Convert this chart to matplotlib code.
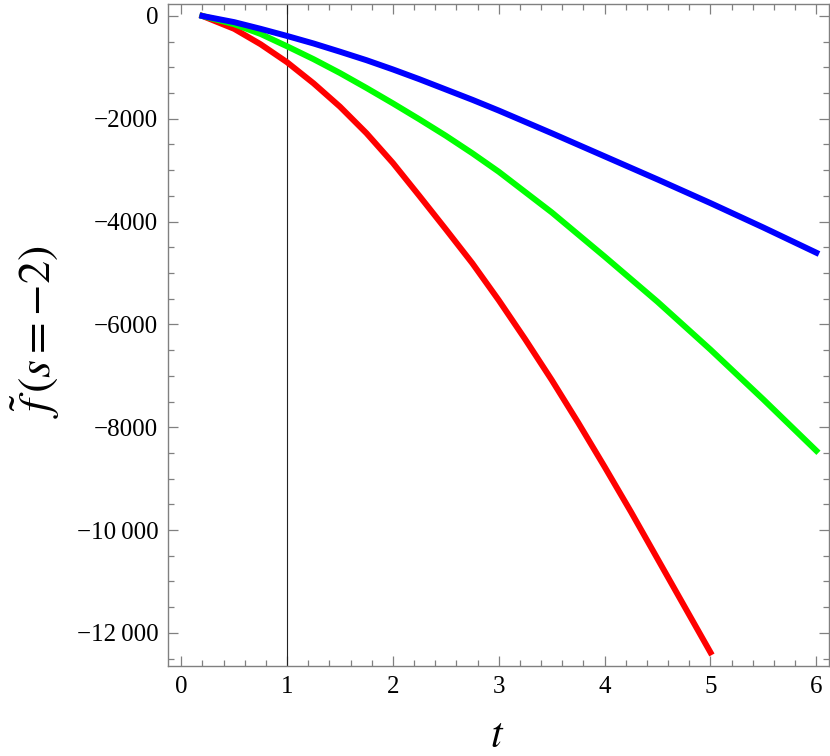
import matplotlib as mpl
mpl.use('Agg')
import numpy as np
import matplotlib.pyplot as plt
from matplotlib.ticker import MultipleLocator, FixedLocator

plt.rcParams['font.family'] = ['Liberation Serif', 'DejaVu Serif']
plt.rcParams['mathtext.fontset'] = 'stix'

# values
t_red = [0.2, 0.5, 0.75, 1.0, 1.25, 1.5, 1.75, 2.0, 2.25, 2.5, 2.75,
         3.0, 3.25, 3.5, 3.75, 4.0, 4.25, 4.5, 4.75, 5.0]
f_red = [0, -250, -550, -900, -1310, -1765, -2280, -2860, -3500, -4150, -4810,
         -5530, -6290, -7080, -7910, -8770, -9650, -10560, -11470, -12380]

t_green = [0.2, 0.5, 0.75, 1.0, 1.25, 1.5, 1.75, 2.0, 2.25, 2.5, 2.75,
           3.0, 3.5, 4.0, 4.5, 5.0, 5.5, 6.0]
f_green = [0, -160, -350, -590, -840, -1110, -1400, -1700, -2010, -2330, -2670,
           -3030, -3820, -4680, -5560, -6490, -7460, -8457]

t_blue = [0.2, 0.5, 0.75, 1.0, 1.25, 1.5, 1.75, 2.0, 2.25, 2.5, 2.75,
          3.0, 3.5, 4.0, 4.5, 5.0, 5.5, 6.0]
f_blue = [0, -120, -250, -389, -535, -695, -860, -1040, -1230, -1430, -1630,
          -1840, -2280, -2730, -3180, -3640, -4115, -4605]

y_ticks = [0, -2000, -4000, -6000, -8000, -10000, -12000]
y_ticklabels = ['0', '\u22122000', '\u22124000', '\u22126000', '\u22128000',
                '\u221210\u2009000', '\u221212\u2009000']
x_ticks = [0, 1, 2, 3, 4, 5, 6]

fig = plt.figure(figsize=(8.3, 7.56), dpi=100)
ax = fig.add_axes([168/830, 90/756, 661/830, 662/756])

lw = 4.3
ax.plot(t_red, f_red, color='#ff0000', lw=lw, solid_capstyle='projecting',
        solid_joinstyle='round', zorder=3)
ax.plot(t_green, f_green, color='#00ff00', lw=lw, solid_capstyle='projecting',
        solid_joinstyle='round', zorder=4)
ax.plot(t_blue, f_blue, color='#0000ff', lw=lw, solid_capstyle='projecting',
        solid_joinstyle='round', zorder=5)
ax.axvline(1, color='#222222', lw=0.8, zorder=2)

ax.set_xlim(-0.125, 6.12)
ax.set_ylim(-12645, 233)

ax.xaxis.set_major_locator(FixedLocator(x_ticks))
ax.xaxis.set_minor_locator(MultipleLocator(0.2))
ax.set_yticks(y_ticks)
ax.set_yticklabels(y_ticklabels)
ax.yaxis.set_minor_locator(MultipleLocator(500))

frame_col = '#808080'
for sp in ax.spines.values():
    sp.set_color(frame_col)
    sp.set_linewidth(1.0)
ax.tick_params(which='both', direction='in', top=True, right=True,
               color=frame_col, width=0.9, labelsize=18, labelcolor='black')
ax.tick_params(which='major', length=7.2, pad=7)
ax.tick_params(which='minor', length=4.3)

ax.set_xlabel(r'$t$', fontsize=30)
ax.xaxis.set_label_coords(0.498, -0.078)
ax.set_ylabel(r'$\tilde{f}\,(s = -2)$', fontsize=33)
ax.yaxis.set_label_coords(-0.16, 0.505)

fig.savefig('out.png', dpi=100)
plt.close()
